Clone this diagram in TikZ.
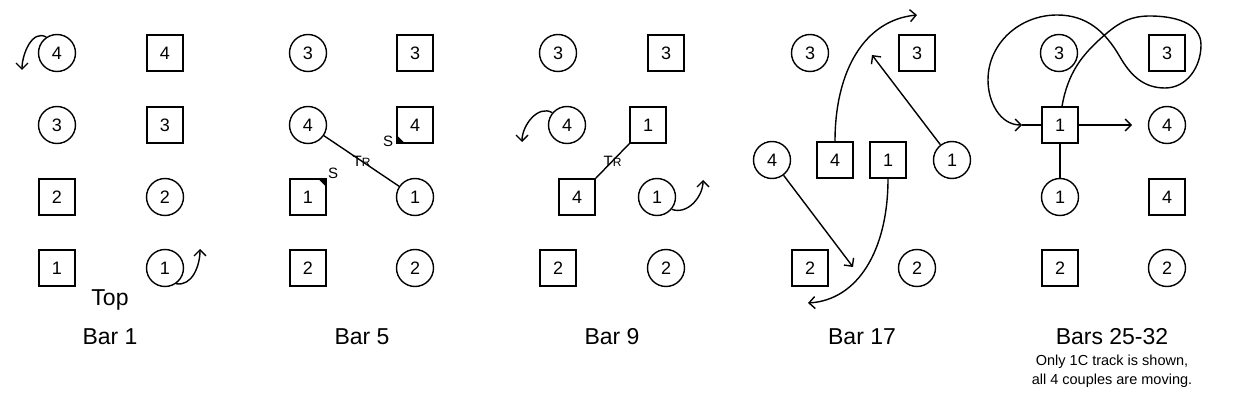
\documentclass[tikz,border=0pt]{standalone}
\usepackage{fontspec}
\setmainfont{Liberation Sans}
\usetikzlibrary{positioning, calc, arrows.meta}

\begin{document}
\begin{tikzpicture}[x=1pt, y=1pt, line width=1.4pt, >={Straight Barb[length=6pt, width=12pt]},
		man/.style={draw, minimum size=36pt, inner sep=0pt, font=\fontsize{18}{18}\selectfont},
		woman/.style={draw, circle, minimum size=37pt, inner sep=0pt, font=\fontsize{18}{18}\selectfont},
		barlabel/.style={font=\fontsize{23}{23}\selectfont},
		notetext/.style={font=\fontsize{14.5}{14.5}\selectfont},
		mini/.style={font=\fontsize{15}{15}\selectfont, inner sep=0pt}]
			\useasboundingbox (0,0) rectangle (1239,-414);
			
			\node[woman] (aw4) at (57,-53) {4};
			\node[man] (am4) at (165,-53) {4};
			\node[woman] (aw3) at (57,-125) {3};
			\node[man] (am3) at (165,-125) {3};
			\node[man] (am2) at (57,-197) {2};
			\node[woman] (aw2) at (165,-197) {2};
			\node[man] (am1) at (57,-268) {1};
			\node[woman] (aw1) at (165,-268) {1};
			\coordinate (aturn4) at (22,-70);
			\coordinate (aturn1) at (200,-249);
			\draw[->] (aw4.124) to[out=150, in=90] (aturn4);
			\draw[->] (aw1.-55) to[out=-10, in=-90] (aturn1);
			\node[barlabel] (atop) at (110,-300) {Top};
			\node[barlabel] (abar) at (110,-337) {Bar 1};
			
			\node[woman] (bw3) at (308,-53) {3};
			\node[man] (bm3) at (415,-53) {3};
			\node[woman] (bw4) at (308,-125) {4};
			\node[man] (bm4) at (415,-125) {4};
			\node[man] (bm1) at (308,-197) {1};
			\node[woman] (bw1) at (415,-197) {1};
			\node[man] (bm2) at (308,-268) {2};
			\node[woman] (bw2) at (415,-268) {2};
			\fill (bm4.south west) -- ++(9,0) -- ++(-9,9) -- cycle;
			\fill (bm1.north east) -- ++(-9,0) -- ++(9,-9) -- cycle;
			\node[mini] (bs4) at (388,-141) {S};
			\node[mini] (bs1) at (333,-173) {S};
			\draw (bw4) -- (bw1) node[midway, mini] (btr) {T{\fontsize{12}{12}\selectfont R}};
			\node[barlabel] (bbar) at (362,-337) {Bar 5};
			
			\node[woman] (cw3) at (558,-53) {3};
			\node[man] (cm3) at (666,-53) {3};
			\node[woman] (cw4) at (567,-125) {4};
			\node[man] (cm1) at (648,-125) {1};
			\node[man] (cm4) at (577,-197) {4};
			\node[woman] (cw1) at (657,-197) {1};
			\node[man] (cm2) at (558,-268) {2};
			\node[woman] (cw2) at (666,-268) {2};
			\draw (cm4.north east) -- (cm1.south west) node[midway, mini] (ctr) {T{\fontsize{12}{12}\selectfont R}};
			\coordinate (cturn4) at (522,-142);
			\coordinate (cturn1) at (703,-180);
			\draw[->] (cw4.140) to[out=150, in=90] (cturn4);
			\draw[->] (cw1.-40) to[out=-20, in=-90] (cturn1);
			\node[barlabel] (cbar) at (612,-337) {Bar 9};
			
			\node[woman] (dw3) at (810,-53) {3};
			\node[man] (dm3) at (917,-53) {3};
			\node[woman] (dw4) at (772,-160) {4};
			\node[man] (dm4) at (835,-160) {4};
			\node[man] (dm1) at (888,-160) {1};
			\node[woman] (dw1) at (952,-160) {1};
			\node[man] (dm2) at (810,-268) {2};
			\node[woman] (dw2) at (917,-268) {2};
			\coordinate (dend4m) at (917,-15);
			\coordinate (dend1m) at (808,-303);
			\coordinate (dend4w) at (853,-267);
			\coordinate (dend1w) at (872,-55);
			\draw[->] (dm4.north) .. controls (835,-70) and (865,-20) .. (dend4m);
			\draw[->] (dm1.south) .. controls (888,-250) and (858,-300) .. (dend1m);
			\draw[->] (dw4) -- (dend4w);
			\draw[->] (dw1) -- (dend1w);
			\node[barlabel] (dbar) at (862,-337) {Bar 17};
			
			\node[woman] (ew3) at (1059,-53) {3};
			\node[man] (em3) at (1167,-53) {3};
			\node[man] (em1) at (1060,-125) {1};
			\node[woman] (ew4) at (1167,-125) {4};
			\node[woman] (ew1) at (1060,-197) {1};
			\node[man] (em4) at (1167,-197) {4};
			\node[man] (em2) at (1060,-268) {2};
			\node[woman] (ew2) at (1167,-268) {2};
			\coordinate (etipl) at (1022,-125);
			\coordinate (etipr) at (1132,-125);
			\draw (em1) -- (ew1);
			\draw[->] (em1) -- (etipr);
			\draw (etipl) -- (em1);
			\draw[->] ([xshift=2pt]em1.north) to[out=80, in=220] (1107,-33) to[out=40, in=180] (1150,-16)
				to[out=0, in=90] (1201,-45) to[out=-90, in=0] (1165,-88) to[out=180, in=-60] (1120,-57)
				to[out=120, in=0] (1057,-15) to[out=180, in=90] (988,-80) to[out=-90, in=180] (etipl);
			\node[barlabel] (ebar) at (1112,-337) {Bars 25-32};
			\node[notetext] (enote1) at (1112,-362) {Only 1C track is shown,};
			\node[notetext] (enote2) at (1112,-381) {all 4 couples are moving.};
		\end{tikzpicture}
\end{document}
